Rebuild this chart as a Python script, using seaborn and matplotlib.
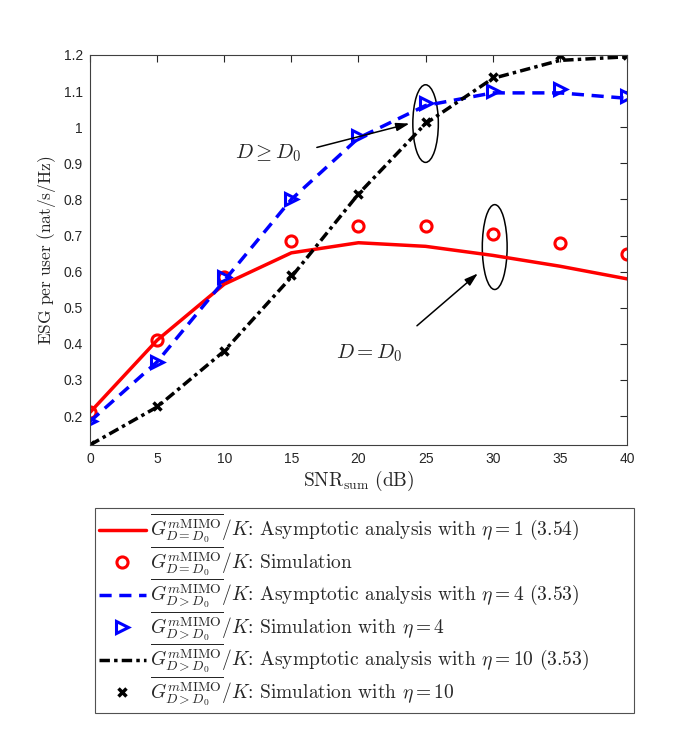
import numpy as np
import pandas as pd
import matplotlib
matplotlib.use("Agg")
import matplotlib.pyplot as plt
import seaborn as sns
from matplotlib.patches import Ellipse

# values
snr = [0, 5, 10, 15, 20, 25, 30, 35, 40]
ana_eta1 = [0.21, 0.41, 0.565, 0.652, 0.68, 0.67, 0.645, 0.615, 0.58]
sim_eq = [0.21, 0.41, 0.585, 0.685, 0.725, 0.725, 0.705, 0.68, 0.65]
ana_eta4 = [0.185, 0.35, 0.575, 0.80, 0.97, 1.06, 1.095, 1.095, 1.08]
sim_eta4 = [0.185, 0.35, 0.585, 0.80, 0.975, 1.068, 1.10, 1.105, 1.085]
ana_eta10 = [0.12, 0.225, 0.38, 0.585, 0.815, 1.01, 1.135, 1.185, 1.195]
sim_eta10 = [0.12, 0.228, 0.38, 0.59, 0.815, 1.015, 1.14, 1.2, 1.2]

g_eq = r"$\overline{G^{m\mathrm{MIMO}}_{D=D_0}}/K$: "
g_gt = r"$\overline{G^{m\mathrm{MIMO}}_{D>D_0}}/K$: "
labels = [
    g_eq + r"Asymptotic analysis with $\eta=1$ (3.54)",
    g_eq + "Simulation",
    g_gt + r"Asymptotic analysis with $\eta=4$ (3.53)",
    g_gt + r"Simulation with $\eta=4$",
    g_gt + r"Asymptotic analysis with $\eta=10$ (3.53)",
    g_gt + r"Simulation with $\eta=10$",
]

sns.set_style("white")
plt.rcParams["mathtext.fontset"] = "cm"
plt.rcParams["font.family"] = ["Liberation Sans", "DejaVu Sans"]

fig = plt.figure(figsize=(6.92, 7.33), dpi=100)
ax = fig.add_axes([0.130, 0.393, 0.776, 0.532])

sns.lineplot(x=snr, y=ana_eta1, ax=ax, color="red", lw=2.5, label=labels[0])
sns.lineplot(x=snr, y=sim_eq, ax=ax, color="red", linestyle="none", marker="o",
             markersize=8, markerfacecolor="none", markeredgecolor="red",
             markeredgewidth=2.2, label=labels[1])
sns.lineplot(x=snr, y=ana_eta4, ax=ax, color="blue", lw=2.5, label=labels[2])
ax.lines[-1].set_dashes([3.5, 2.2])
sns.lineplot(x=snr, y=sim_eta4, ax=ax, color="blue", linestyle="none", marker=">",
             markersize=9, markerfacecolor="none", markeredgecolor="blue",
             markeredgewidth=2.2, label=labels[3])
sns.lineplot(x=snr, y=ana_eta10, ax=ax, color="black", lw=2.5, label=labels[4])
ax.lines[-1].set_dashes([3.0, 1.2, 1.0, 1.2])
sns.lineplot(x=snr, y=sim_eta10, ax=ax, color="black", linestyle="none", marker="x",
             markersize=5.5, markeredgecolor="black", markeredgewidth=2.5,
             label=labels[5])

ax.set_xlim(0, 40)
ax.set_ylim(0.12, 1.2)
ax.set_xticks(range(0, 41, 5))
ax.set_yticks(np.round(np.arange(0.2, 1.21, 0.1), 1))
ax.set_yticklabels(["0.2", "0.3", "0.4", "0.5", "0.6", "0.7", "0.8", "0.9", "1", "1.1", "1.2"])
ax.tick_params(direction="in", length=5, width=0.8, top=True, right=True,
               labelsize=10, colors="#262626", pad=5)
for s in ax.spines.values():
    s.set_color("#404040")
    s.set_linewidth(0.8)

ax.set_xlabel(r"$\mathrm{SNR}_{\mathrm{sum}}$ $\mathrm{(dB)}$", fontsize=14, labelpad=2)
ax.set_ylabel(r"$\mathrm{ESG\ per\ user\ (nat/s/Hz)}$", fontsize=12.5, labelpad=4)

# annotations
ax.add_patch(Ellipse((25, 1.01), 1.9, 0.215, fill=False, ec="black", lw=1.1))
ax.add_patch(Ellipse((30.15, 0.668), 1.85, 0.235, fill=False, ec="black", lw=1.1))
ax.annotate("", xy=(24.0, 1.012), xytext=(16.7, 0.942),
            arrowprops=dict(arrowstyle="-|>,head_length=0.8,head_width=0.25",
                            color="black", lw=1.1))
ax.annotate("", xy=(29.05, 0.60), xytext=(24.2, 0.445),
            arrowprops=dict(arrowstyle="-|>,head_length=0.8,head_width=0.25",
                            color="black", lw=1.1))
ax.text(13.3, 0.927, r"$D \geq D_0$", fontsize=15, ha="center", va="center")
ax.text(20.8, 0.375, r"$D = D_0$", fontsize=15, ha="center", va="center")

leg = ax.legend(loc="upper left",
                bbox_to_anchor=(95 / 692, 1 - 508 / 733, 539 / 692, 0.0),
                bbox_transform=fig.transFigure, mode="expand", borderaxespad=0,
                frameon=True, fancybox=False, edgecolor="#262626",
                handlelength=2.4, labelspacing=-0.08, borderpad=0.2,
                handletextpad=0.25, prop={"family": "cmr10", "size": 14})
leg.get_frame().set_linewidth(0.8)

fig.savefig("out.png", dpi=100, facecolor="white")
